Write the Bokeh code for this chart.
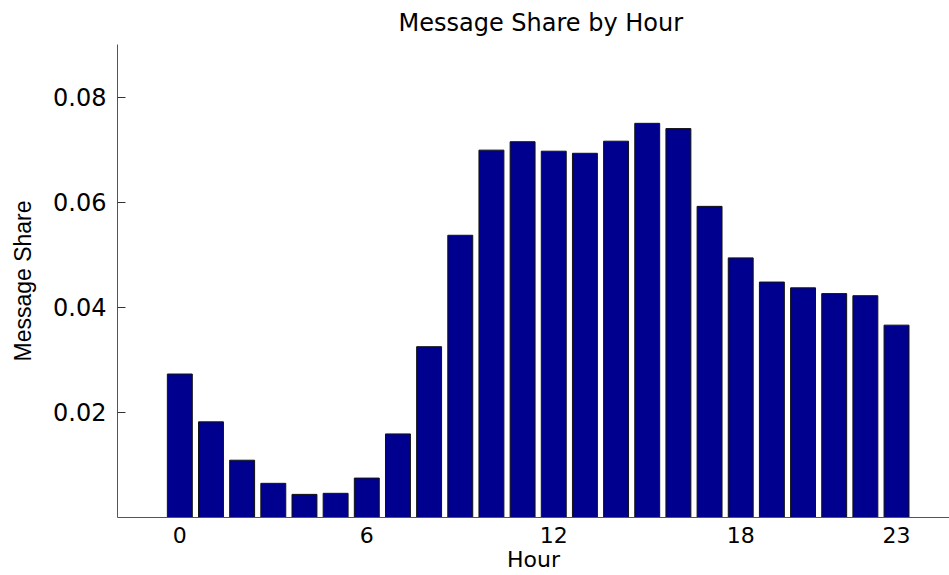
from bokeh.plotting import figure
from bokeh.models import Range1d, FixedTicker, ColumnDataSource
from bokeh.embed import file_html
from bokeh.resources import INLINE

hours = list(range(24))
share = [0.0273, 0.0182, 0.0109, 0.0065, 0.0044, 0.0046, 0.0075, 0.0159,
         0.0325, 0.0537, 0.0699, 0.0715, 0.0697, 0.0693, 0.0716, 0.0750,
         0.0740, 0.0592, 0.0494, 0.0448, 0.0437, 0.0426, 0.0422, 0.0366]
x_ticks = [0, 6, 12, 18, 23]
y_ticks = [0.02, 0.04, 0.06, 0.08]

src = ColumnDataSource(dict(hour=hours, share=share))

p = figure(width=949, height=575, output_backend="svg", toolbar_location=None,
           x_range=Range1d(-2, 24.7), y_range=Range1d(0, 0.09),
           min_border_left=117, min_border_right=0, min_border_top=44,
           min_border_bottom=58, title="Message Share by Hour")

p.vbar(x="hour", top="share", width=0.8, bottom=0, source=src,
       fill_color="#00008F", line_color="#111111", line_width=1)

p.outline_line_color = None
p.xgrid.grid_line_color = None
p.ygrid.grid_line_color = None
p.background_fill_color = "white"
p.border_fill_color = "white"

p.title.text_font = "DejaVu Sans"
p.title.text_font_size = "24px"
p.title.text_font_style = "normal"
p.title.align = "left"
p.title.offset = 281
p.title.vertical_align = "top"
p.title.standoff = 12
p.title.text_color = "black"

p.xaxis.ticker = FixedTicker(ticks=x_ticks)
p.xaxis.major_tick_in = 0
p.xaxis.major_tick_out = 0
p.xaxis.minor_tick_in = 0
p.xaxis.minor_tick_out = 0
p.xaxis.major_label_text_font = "DejaVu Sans"
p.xaxis.major_label_text_font_size = "22px"
p.xaxis.major_label_text_color = "black"
p.xaxis.major_label_standoff = 9
p.xaxis.axis_label = "Hour"
p.xaxis.axis_label_text_font = "DejaVu Sans"
p.xaxis.axis_label_text_font_size = "22px"
p.xaxis.axis_label_text_font_style = "normal"
p.xaxis.axis_label_text_color = "black"
p.xaxis.axis_label_standoff = 1
p.xaxis.axis_line_color = "#555555"

p.yaxis.ticker = FixedTicker(ticks=y_ticks)
p.yaxis.major_tick_in = 8
p.yaxis.major_tick_out = 0
p.yaxis.minor_tick_in = 0
p.yaxis.minor_tick_out = 0
p.yaxis.major_tick_line_color = "#333333"
p.yaxis.major_label_text_font = "DejaVu Sans"
p.yaxis.major_label_text_font_size = "24px"
p.yaxis.major_label_text_color = "black"
p.yaxis.major_label_standoff = 11
p.yaxis.axis_label = "Message Share"
p.yaxis.axis_label_text_font = "Liberation Sans"
p.yaxis.axis_label_text_font_size = "23px"
p.yaxis.axis_label_text_font_style = "normal"
p.yaxis.axis_label_text_color = "black"
p.yaxis.axis_label_standoff = 14
p.yaxis.axis_line_color = "#555555"

open("out.html", "w").write(file_html(p, INLINE))
